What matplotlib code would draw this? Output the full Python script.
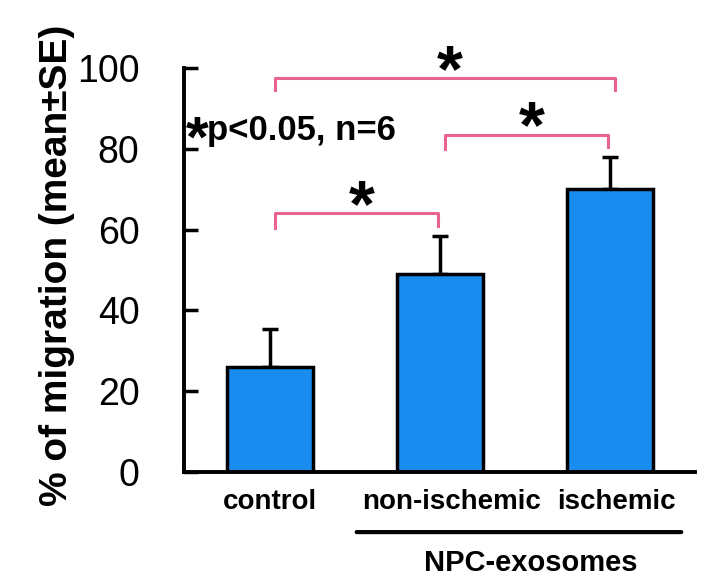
import matplotlib.pyplot as plt
from matplotlib.transforms import ScaledTranslation

plt.rcParams["font.family"] = ["Liberation Sans", "DejaVu Sans"]

groups = ["control", "non-ischemic", "ischemic"]
means = [26, 49, 70]
errors = [9.5, 9.5, 8]

# significance brackets: (left bar, right bar, line height, left drop, right drop)
brackets = [
    (0, 1, 64, 60.5, 61),
    (1, 2, 83.5, 80, 80.5),
    (0, 2, 97.5, 94.5, 94.5),
]

bar_color = "#1a8cf0"
pink = "#e8648c"

fig = plt.figure(figsize=(7.04, 5.85), dpi=100)
ax = fig.add_axes([0.2614, 0.193, 0.7256, 0.6908])

x = list(range(len(groups)))
ax.bar(x, means, width=0.506, color=bar_color, edgecolor="black", linewidth=2.5,
       zorder=2)
ax.errorbar(x, means, yerr=[[0] * 3, errors], fmt="none", ecolor="black",
            elinewidth=2.5, capsize=6, capthick=2.5, zorder=1)

for left, right, h, dl, dr in brackets:
    xl = left + 0.03
    xr = right + (0.03 if right - left > 1 else -0.01)
    ax.plot([xl, xl, xr, xr], [dl, h, h, dr], color=pink, lw=2.2,
            clip_on=False, zorder=3)
    ax.text((xl + xr) / 2 + 0.03, h - 3.2, "*", ha="center", va="baseline",
            fontsize=48, fontweight="bold", clip_on=False)

ax.text(-0.428, 78.2, "*", ha="center", va="baseline", fontsize=42,
        fontweight="bold", zorder=5)
ax.text(-0.372, 84.6, "p<0.05, n=6", ha="left", va="center", fontsize=25,
        fontweight="bold")

ax.set_xlim(-0.506, 2.5)
ax.set_ylim(0, 100)
ax.set_yticks([0, 20, 40, 60, 80, 100])
ax.tick_params(axis="y", direction="in", length=10, width=2.5, labelsize=27,
               pad=32)
ax.tick_params(axis="x", length=0, pad=12)
ax.set_xticks(x)
ax.set_xticklabels(groups, fontsize=20, fontweight="bold")
for lab, dx in zip(ax.get_xticklabels(), [0, 12, 7]):
    lab.set_transform(lab.get_transform()
                      + ScaledTranslation(dx / 100, 0, fig.dpi_scale_trans))

for side in ["top", "right"]:
    ax.spines[side].set_visible(False)
ax.spines["left"].set_linewidth(2.8)
ax.spines["bottom"].set_linewidth(2.8)

ax.set_ylabel("% of migration (mean±SE)", fontsize=28, fontweight="bold")
ax.yaxis.set_label_coords(-0.213, 0.512)

# group underline and label
ax.annotate("", xy=(0.51, -0.1485), xytext=(2.42, -0.1485),
            xycoords=("data", "axes fraction"),
            arrowprops=dict(arrowstyle="-", lw=3, color="black",
                            shrinkA=0, shrinkB=0))
ax.text(1.535, -0.225, "NPC-exosomes", transform=ax.get_xaxis_transform(),
        ha="center", va="center", fontsize=21, fontweight="bold")

fig.savefig("out.png", dpi=100)
